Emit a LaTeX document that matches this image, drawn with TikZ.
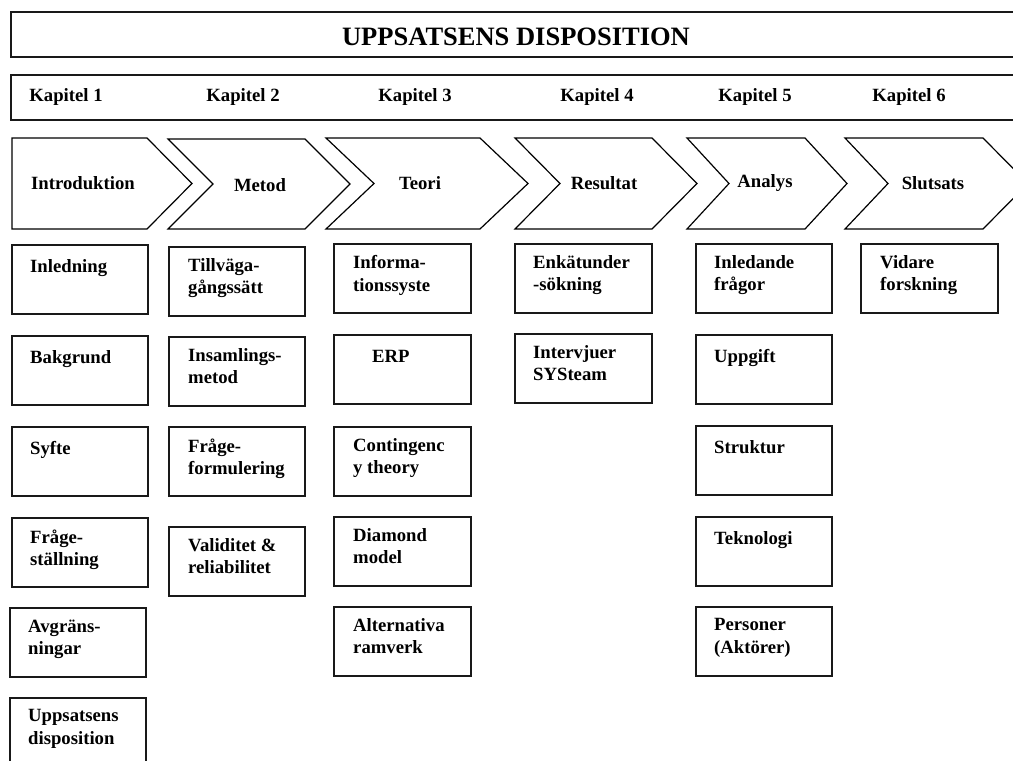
\documentclass[tikz,border=0pt]{standalone}
\usepackage{fontspec}
\setmainfont{Liberation Serif}
\begin{document}
\begin{tikzpicture}[x=1pt,y=-1pt,
  frame/.style={draw=black!90, line width=1.8pt, rectangle, inner sep=0pt, anchor=north west},
  box/.style={frame, minimum width=136pt, minimum height=69pt},
  chev/.style={draw=black, line width=1.2pt, line join=miter, fill=white},
  txt/.style={font=\bfseries\fontsize{18.7}{22.5}\selectfont, align=left, inner sep=0pt, anchor=north west, execute at begin node=\strut},
  lbl/.style={font=\bfseries\fontsize{18.7}{22.5}\selectfont, inner sep=0pt, anchor=center},
  ttl/.style={font=\bfseries\fontsize{26.5}{30}\selectfont, inner sep=0pt, anchor=center}]
\useasboundingbox (0,0) rectangle (1013,761);
\clip (0,0) rectangle (1013,761);
% header boxes
\node[frame, minimum width=1012pt, minimum height=45pt] (titlebox) at (10,11) {};
\node[ttl] (title) at (516,37) {UPPSATSENS DISPOSITION};
\node[frame, minimum width=1012pt, minimum height=45pt] (kapbox) at (10,74) {};
\node[lbl] (k1) at (66,97) {Kapitel 1};
\node[lbl] (k2) at (243,97) {Kapitel 2};
\node[lbl] (k3) at (415,97) {Kapitel 3};
\node[lbl] (k4) at (597,97) {Kapitel 4};
\node[lbl] (k5) at (755,97) {Kapitel 5};
\node[lbl] (k6) at (909,97) {Kapitel 6};
% chevrons
\draw[chev] (12,138) -- (147,138) -- (192,183.5) -- (147,229) -- (12,229) -- cycle;
\draw[chev] (168,139) -- (305,139) -- (350,184) -- (305,229) -- (168,229) -- (213,184) -- cycle;
\draw[chev] (326,138) -- (480,138) -- (528,183.5) -- (480,229) -- (326,229) -- (374,183.5) -- cycle;
\draw[chev] (515,138) -- (652,138) -- (697,183.5) -- (652,229) -- (515,229) -- (560,183.5) -- cycle;
\draw[chev] (687,138) -- (805,138) -- (847,183.5) -- (805,229) -- (687,229) -- (729,183.5) -- cycle;
\draw[chev] (845,138) -- (983,138) -- (1028,183.5) -- (983,229) -- (845,229) -- (888,183.5) -- cycle;
\node[lbl] (c1) at (83,183) {Introduktion};
\node[lbl] (c2) at (260,185) {Metod};
\node[lbl] (c3) at (420,183) {Teori};
\node[lbl] (c4) at (604,183) {Resultat};
\node[lbl] (c5) at (765,183) {Analys};
\node[lbl] (c6) at (933,183) {Slutsats};
% column 1
\node[box] (a1) at (11,244) {};
\node[txt] at ([xshift=19pt,yshift=-12.3pt]a1.north west) {Inledning};
\node[box] (a2) at (11,335) {};
\node[txt] at ([xshift=19pt,yshift=-12.3pt]a2.north west) {Bakgrund};
\node[box] (a3) at (11,426) {};
\node[txt] at ([xshift=19pt,yshift=-12.3pt]a3.north west) {Syfte};
\node[box] (a4) at (11,517) {};
\node[txt] at ([xshift=19pt,yshift=-12.3pt]a4.north west) {Fråge-\\ställning};
\node[box] (a5) at (9,607) {};
\node[txt] at ([xshift=19pt,yshift=-12.3pt]a5.north west) {Avgräns-\\ningar};
\node[box] (a6) at (9,697) {};
\node[txt] at ([xshift=19pt,yshift=-12.3pt]a6.north west) {Uppsatsens\\disposition};
% column 2
\node[box] (b1) at (168,246) {};
\node[txt] at ([xshift=20pt,yshift=-12.3pt]b1.north west) {Tillväga-\\gångssätt};
\node[box] (b2) at (168,336) {};
\node[txt] at ([xshift=20pt,yshift=-12.3pt]b2.north west) {Insamlings-\\metod};
\node[box] (b3) at (168,426) {};
\node[txt] at ([xshift=20pt,yshift=-12.3pt]b3.north west) {Fråge-\\formulering};
\node[box] (b4) at (168,526) {};
\node[txt] at ([xshift=20pt,yshift=-12.3pt]b4.north west) {Validitet \&\\reliabilitet};
% column 3
\node[box, minimum width=137pt] (d1) at (333,243) {};
\node[txt] at ([xshift=20pt,yshift=-12.3pt]d1.north west) {Informa-\\tionssyste};
\node[box, minimum width=137pt] (d2) at (333,334) {};
\node[txt] at ([xshift=39pt,yshift=-12.3pt]d2.north west) {ERP};
\node[box, minimum width=137pt] (d3) at (333,426) {};
\node[txt] at ([xshift=20pt,yshift=-12.3pt]d3.north west) {Contingenc\\y theory};
\node[box, minimum width=137pt] (d4) at (333,516) {};
\node[txt] at ([xshift=20pt,yshift=-12.3pt]d4.north west) {Diamond\\model};
\node[box, minimum width=137pt] (d5) at (333,606) {};
\node[txt] at ([xshift=20pt,yshift=-12.3pt]d5.north west) {Alternativa\\ramverk};
% column 4
\node[box, minimum width=137pt] (e1) at (514,243) {};
\node[txt] at ([xshift=19pt,yshift=-12.3pt]e1.north west) {Enkätunder\\-sökning};
\node[box, minimum width=137pt] (e2) at (514,333) {};
\node[txt] at ([xshift=19pt,yshift=-12.3pt]e2.north west) {Intervjuer\\SYSteam};
% column 5
\node[box] (f1) at (695,243) {};
\node[txt] at ([xshift=19pt,yshift=-12.3pt]f1.north west) {Inledande\\frågor};
\node[box] (f2) at (695,334) {};
\node[txt] at ([xshift=19pt,yshift=-12.3pt]f2.north west) {Uppgift};
\node[box] (f3) at (695,425) {};
\node[txt] at ([xshift=19pt,yshift=-12.3pt]f3.north west) {Struktur};
\node[box] (f4) at (695,516) {};
\node[txt] at ([xshift=19pt,yshift=-12.3pt]f4.north west) {Teknologi};
\node[box] (f5) at (695,606) {};
\node[txt] at ([xshift=19pt,yshift=-12.3pt]f5.north west) {Personer\\(Aktörer)};
% column 6
\node[box, minimum width=137pt] (g1) at (860,243) {};
\node[txt] at ([xshift=20pt,yshift=-12.3pt]g1.north west) {Vidare\\forskning};
\end{tikzpicture}
\end{document}
